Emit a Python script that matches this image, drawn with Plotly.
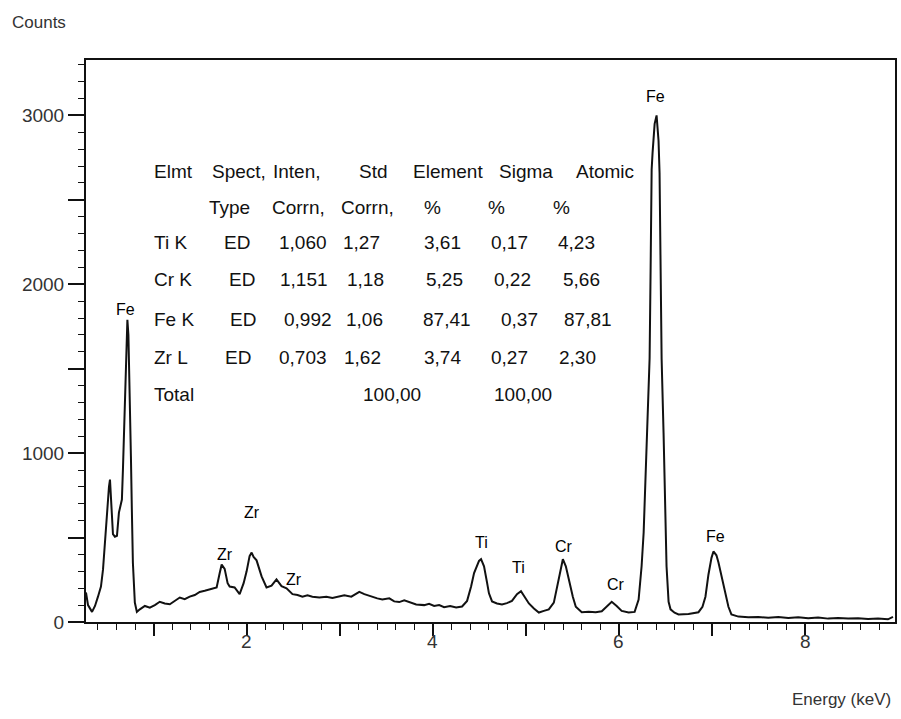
import plotly.graph_objects as go

# ---------------- data ----------------
energy_kev = [
    0.273, 0.295, 0.338, 0.370, 0.402, 0.434, 0.456, 0.477, 0.498, 0.520,
    0.531, 0.541, 0.552, 0.563, 0.584, 0.606, 0.627, 0.648, 0.659, 0.670,
    0.686, 0.702, 0.718, 0.729, 0.745, 0.756, 0.766, 0.777, 0.798, 0.820,
    0.852, 0.906, 0.959, 1.013, 1.066, 1.120, 1.174, 1.227, 1.281, 1.334,
    1.388, 1.442, 1.495, 1.549, 1.602, 1.645, 1.677, 1.710, 1.731, 1.763,
    1.795, 1.817, 1.870, 1.924, 1.967, 1.999, 2.031, 2.053, 2.074, 2.106,
    2.160, 2.213, 2.267, 2.320, 2.374, 2.428, 2.492, 2.546, 2.599, 2.653,
    2.706, 2.781, 2.856, 2.921, 2.974, 3.049, 3.124, 3.167, 3.210, 3.264,
    3.339, 3.403, 3.457, 3.532, 3.585, 3.639, 3.693, 3.746, 3.821, 3.907,
    3.960, 4.014, 4.068, 4.121, 4.186, 4.250, 4.314, 4.368, 4.411, 4.443,
    4.464, 4.496, 4.518, 4.550, 4.582, 4.603, 4.636, 4.689, 4.743, 4.796,
    4.850, 4.904, 4.947, 4.989, 5.032, 5.086, 5.139, 5.193, 5.246, 5.300,
    5.332, 5.364, 5.397, 5.429, 5.461, 5.504, 5.536, 5.600, 5.675, 5.750,
    5.815, 5.868, 5.922, 5.975, 6.029, 6.104, 6.168, 6.211, 6.243, 6.265,
    6.297, 6.318, 6.329, 6.340, 6.351, 6.361, 6.383, 6.404, 6.425, 6.436,
    6.447, 6.458, 6.479, 6.500, 6.511, 6.533, 6.554, 6.597, 6.640, 6.747,
    6.854, 6.897, 6.929, 6.961, 6.994, 7.015, 7.047, 7.069, 7.111, 7.144,
    7.176, 7.208, 7.283, 7.390, 7.497, 7.604, 7.712, 7.819, 7.926, 8.033,
    8.140, 8.248, 8.355, 8.462, 8.569, 8.676, 8.783, 8.890, 8.944,
]
counts = [
    175, 100, 60, 95, 150, 210, 310, 488, 650, 800,
    843, 760, 640, 520, 505, 510, 648, 700, 725, 900,
    1240, 1570, 1790, 1700, 1334, 980, 666, 352, 115, 60,
    75, 95, 85, 100, 120, 110, 105, 125, 145, 135,
    150, 160, 178, 185, 195, 200, 205, 290, 340, 315,
    230, 210, 205, 165, 230, 300, 390, 411, 385, 365,
    270, 205, 215, 252, 212, 200, 165, 160, 150, 158,
    150, 145, 150, 142, 148, 158, 150, 165, 178, 165,
    150, 140, 133, 140, 122, 118, 128, 118, 104, 100,
    108, 95, 100, 88, 95, 86, 92, 125, 210, 290,
    320, 362, 372, 330, 235, 170, 122, 110, 104, 112,
    125, 165, 182, 150, 110, 80, 56, 66, 75, 115,
    200, 300, 372, 330, 250, 150, 90, 58, 60, 58,
    64, 92, 120, 95, 66, 56, 60, 133, 330, 530,
    1020, 1400, 1560, 2100, 2680, 2780, 2950, 3000, 2850, 2660,
    2200, 1560, 1120, 600, 330, 120, 75, 55, 45, 48,
    58, 90, 150, 280, 380, 418, 395, 352, 250, 175,
    90, 45, 32, 28, 30, 25, 30, 24, 28, 22,
    26, 20, 24, 20, 22, 18, 20, 16, 30,
]

peak_labels = ["Fe", "Zr", "Zr", "Zr", "Ti", "Ti", "Cr", "Cr", "Fe", "Fe"]
peak_label_kev = [0.702, 1.763, 2.053, 2.513, 4.528, 4.925, 5.408, 5.965, 6.394, 7.036]
peak_label_counts = [1849, 399, 648, 251, 470, 323, 447, 222, 3110, 506]

# x tick labels (every 2 keV) and tick spacing
x_label_vals = [2, 4, 6, 8]
x_label_text = ["2", "4", "6", "8"]
x_major_step = 1
x_minor_step = 0.2
y_major_step = 500
y_minor_step = 100

table_rows = [
    ["Elmt", "Spect,", "Inten,", "Std", "Element", "Sigma", "Atomic"],
    ["", "Type", "Corrn,", "Corrn,", "%", "%", "%"],
    ["Ti K", "ED", "1,060", "1,27", "3,61", "0,17", "4,23"],
    ["Cr K", "ED", "1,151", "1,18", "5,25", "0,22", "5,66"],
    ["Fe K", "ED", "0,992", "1,06", "87,41", "0,37", "87,81"],
    ["Zr L", "ED", "0,703", "1,62", "3,74", "0,27", "2,30"],
    ["Total", "", "", "100,00", "", "100,00", ""],
]
# left edge (px) for each cell and row centre (px)
table_x = [
    [152, 210, 271, 358, 412, 498, 575],
    [152, 207, 270, 340, 423, 487, 552],
    [152, 222, 277, 342, 423, 490, 557],
    [152, 227, 278, 346, 425, 493, 562],
    [152, 228, 282, 345, 422, 500, 563],
    [152, 223, 277, 343, 423, 490, 558],
    [152, 223, 277, 362, 423, 493, 558],
]
table_y = [172, 208, 243, 280, 320, 358, 395]

# ---------------- layout constants ----------------
W, H = 901, 719
L, R, T, B = 86, 897, 60, 622.5
X_RANGE = [(L - 60.5) / 93.3, (R - 60.5) / 93.3]
Y_RANGE = [0, (B - T) / 0.169]

FONT = "Liberation Sans, Arial, sans-serif"
INK = "#111111"


def px2paper(px, py):
    return (px - L) / (R - L), (B - py) / (B - T)


fig = go.Figure()
fig.add_trace(go.Scatter(
    x=energy_kev, y=counts, mode="lines",
    line=dict(color=INK, width=2),
    hoverinfo="skip", showlegend=False,
))

# peak labels
for txt, xk, yc in zip(peak_labels, peak_label_kev, peak_label_counts):
    fig.add_annotation(x=xk, y=yc, text=txt, showarrow=False,
                       xref="x", yref="y", xanchor="center", yanchor="middle",
                       font=dict(family=FONT, size=16, color="#000000"))

# table of results
for row, xs, py in zip(table_rows, table_x, table_y):
    for cell, px in zip(row, xs):
        if not cell:
            continue
        ax, ay = px2paper(px, py)
        fig.add_annotation(x=ax, y=ay, xref="paper", yref="paper",
                           text=cell, showarrow=False, xanchor="left",
                           yanchor="middle",
                           font=dict(family=FONT, size=19, color=INK))

tickfont = dict(family=FONT, size=19, color="#333333")

# x tick labels placed on the x data scale, below the axis
_, label_y = px2paper(0, 642)
for v, t in zip(x_label_vals, x_label_text):
    fig.add_annotation(x=v, y=label_y, xref="x", yref="paper", text=t,
                       showarrow=False, xanchor="center", yanchor="middle",
                       font=tickfont)

# axis titles
ax, ay = px2paper(39, 22)
fig.add_annotation(x=ax, y=ay, xref="paper", yref="paper", text="Counts",
                   showarrow=False, xanchor="center", yanchor="middle",
                   font=dict(family=FONT, size=17, color="#333333"))
ax, ay = px2paper(843, 700)
fig.add_annotation(x=ax, y=ay, xref="paper", yref="paper", text="Energy (keV)",
                   showarrow=False, xanchor="center", yanchor="middle",
                   font=dict(family=FONT, size=17, color="#333333"))

fig.update_layout(
    width=W, height=H,
    margin=dict(l=L, r=W - R, t=T, b=H - B),
    paper_bgcolor="white", plot_bgcolor="white",
    showlegend=False,
    xaxis=dict(
        range=X_RANGE, showgrid=False, zeroline=False,
        showline=True, linecolor=INK, linewidth=2, mirror=True,
        tickmode="linear", tick0=0, dtick=x_major_step,
        ticks="outside", ticklen=12, tickwidth=1.5, tickcolor=INK,
        showticklabels=False,
        minor=dict(dtick=x_minor_step, tick0=0, ticks="outside", ticklen=6,
                   tickwidth=1.2, tickcolor=INK, showgrid=False),
    ),
    yaxis=dict(
        range=Y_RANGE, showgrid=False, zeroline=False,
        showline=True, linecolor=INK, linewidth=2, mirror=True,
        tickmode="linear", tick0=0, dtick=y_major_step, ticklabelstep=2,
        ticks="outside", ticklen=16, tickwidth=1.5, tickcolor=INK,
        tickfont=tickfont,
        minor=dict(tick0=0, dtick=y_minor_step, ticks="outside",
                   ticklen=6, tickwidth=1.2, tickcolor=INK, showgrid=False),
    ),
)

fig.write_html("out.html")
